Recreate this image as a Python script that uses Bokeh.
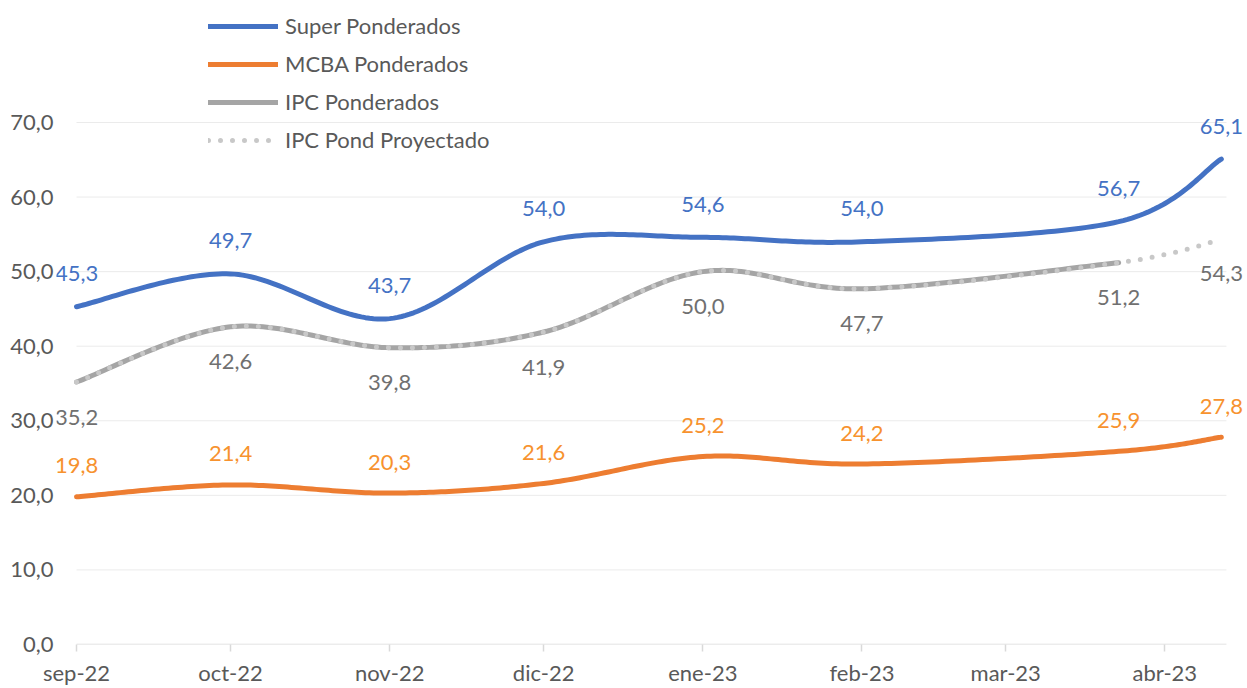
import numpy as np
from bokeh.plotting import figure
from bokeh.models import FixedTicker, Legend, LegendItem, ColumnDataSource, Range1d, LabelSet
from bokeh.core.properties import value
from bokeh.embed import file_html
from bokeh.resources import INLINE

# ---------------- data ----------------
dates = ["2022-09-01", "2022-10-01", "2022-11-01", "2022-12-01",
         "2023-01-01", "2023-02-01", "2023-03-23", "2023-04-12"]
super_pond = [45.3, 49.7, 43.7, 54.0, 54.6, 54.0, 56.7, 65.1]
mcba_pond = [19.8, 21.4, 20.3, 21.6, 25.2, 24.2, 25.9, 27.8]
ipc_pond = [35.2, 42.6, 39.8, 41.9, 50.0, 47.7, 51.2]
ipc_proj = [35.2, 42.6, 39.8, 41.9, 50.0, 47.7, 51.2, 54.3]
proj_label_index = [7]

tick_dates = ["2022-09-01", "2022-10-01", "2022-11-01", "2022-12-01",
              "2023-01-01", "2023-02-01", "2023-03-01", "2023-04-01"]
tick_labels = ["sep-22", "oct-22", "nov-22", "dic-22",
               "ene-23", "feb-23", "mar-23", "abr-23"]
y_ticks = [0, 10, 20, 30, 40, 50, 60, 70]
x_start, x_end = "2022-09-01", "2023-04-13"

FONT = "Lato"
DAY = 86400000.0
PAD_LEFT_DAYS = 3.9     # room for data labels outside the axis extent
PAD_RIGHT_DAYS = 4.1


def to_ms(d):
    return np.array(d, dtype="datetime64[ms]").astype("int64").astype(float)


def smooth(x, y, n=40):
    P = np.column_stack([np.asarray(x, float), np.asarray(y, float)])
    m = len(P)
    xs, ys = [], []
    for i in range(m - 1):
        p0 = P[max(i - 1, 0)]
        p1 = P[i]
        p2 = P[i + 1]
        p3 = P[min(i + 2, m - 1)]
        c1 = p1 + (p2 - p0) / 6.0
        c2 = p2 - (p3 - p1) / 6.0
        t = np.linspace(0, 1, n)[:, None]
        if i > 0:
            t = t[1:]
        B = ((1 - t) ** 3) * p1 + 3 * ((1 - t) ** 2) * t * c1 + 3 * (1 - t) * t ** 2 * c2 + t ** 3 * p2
        xs.append(B[:, 0])
        ys.append(B[:, 1])
    return np.concatenate(xs), np.concatenate(ys)


def fmt(v):
    return f"{v:.1f}".replace(".", ",")


xd = to_ms(dates)
x_ticks = [float(t) for t in to_ms(tick_dates)]
xs0 = float(to_ms(x_start))
xs1 = float(to_ms(x_end))

p = figure(width=1247, height=688, x_axis_type="datetime",
           output_backend="svg", toolbar_location=None,
           x_range=Range1d(xs0 - PAD_LEFT_DAYS * DAY, xs1 + PAD_RIGHT_DAYS * DAY),
           y_range=Range1d(0, 86.36),
           min_border_left=56, min_border_right=0,
           min_border_top=0, min_border_bottom=30)
p.outline_line_color = None
p.background_fill_color = "white"
p.border_fill_color = "white"

# grid (drawn as segments so it spans only the category extent)
p.xgrid.grid_line_color = None
p.ygrid.grid_line_color = None
grid_y = [t for t in y_ticks if t != 0]
p.segment(x0=[xs0] * len(grid_y), y0=grid_y, x1=[xs1] * len(grid_y), y1=grid_y,
          line_color="#EBEBEB", line_width=1)
p.segment(x0=[xs0], y0=[0], x1=[xs1], y1=[0], line_color="#D9D9D9", line_width=1.5)

p.yaxis.ticker = FixedTicker(ticks=y_ticks)
p.yaxis.major_label_overrides = {t: fmt(t) for t in y_ticks}
p.yaxis.axis_line_color = None
p.yaxis.major_tick_line_color = None
p.yaxis.minor_tick_line_color = None
p.yaxis.major_label_standoff = -3
p.yaxis.major_label_text_font = FONT
p.yaxis.major_label_text_font_size = "22px"
p.yaxis.major_label_text_color = "#595959"

p.xaxis.ticker = FixedTicker(ticks=x_ticks)
p.xaxis.major_label_overrides = {t: l for t, l in zip(x_ticks, tick_labels)}
p.xaxis.axis_line_color = None
p.xaxis.major_tick_line_color = "#D9D9D9"
p.xaxis.major_tick_line_width = 1.5
p.xaxis.major_tick_out = 7
p.xaxis.major_tick_in = 0
p.xaxis.minor_tick_line_color = None
p.xaxis.major_label_standoff = 7
p.xaxis.major_label_text_font = FONT
p.xaxis.major_label_text_font_size = "22px"
p.xaxis.major_label_text_color = "#595959"

BLUE = "#4472C4"
ORANGE = "#ED7D31"
GRAY = "#A5A5A5"
DOT = "#C8C8C8"

sx, sy = smooth(xd, super_pond)
r_super = p.line(sx, sy, line_color=BLUE, line_width=5, line_cap="round", line_join="round")
mx, my = smooth(xd, mcba_pond)
r_mcba = p.line(mx, my, line_color=ORANGE, line_width=5, line_cap="round", line_join="round")
ix, iy = smooth(xd[:len(ipc_pond)], ipc_pond)
r_ipc = p.line(ix, iy, line_color=GRAY, line_width=5, line_cap="round", line_join="round")
px_, py_ = smooth(xd[:len(ipc_proj)], ipc_proj, n=200)
r_proj = p.line(px_, py_, line_color=DOT, line_width=5, line_cap="round",
                line_join="round", line_dash="0 12")


# data labels
def add_labels(xs, ys, color, offset):
    src = ColumnDataSource(dict(x=list(xs), y=list(ys), t=[fmt(v) for v in ys]))
    ls = LabelSet(x="x", y="y", text="t", source=src, y_offset=offset,
                  text_color=color, text_font=value(FONT), text_font_size="22px",
                  text_align="center", text_baseline="middle")
    p.add_layout(ls)


add_labels(xd, super_pond, BLUE, 33)
add_labels(xd, mcba_pond, "#F7922E", 31)
add_labels(xd[:len(ipc_pond)], ipc_pond, "#707070", -35)
add_labels([xd[i] for i in proj_label_index], [ipc_proj[i] for i in proj_label_index],
           "#707070", -34)

legend = Legend(items=[
    LegendItem(label="Super Ponderados", renderers=[r_super]),
    LegendItem(label="MCBA Ponderados", renderers=[r_mcba]),
    LegendItem(label="IPC Ponderados", renderers=[r_ipc]),
    LegendItem(label="IPC Pond Proyectado", renderers=[r_proj]),
], location=(152, 491), orientation="vertical",
    glyph_width=70, glyph_height=20, label_height=20, spacing=11,
    padding=0, margin=0, border_line_color=None, background_fill_alpha=0,
    label_text_font=FONT, label_text_font_size="22px",
    label_text_color="#595959", label_standoff=7)
p.add_layout(legend)

open("out.html", "w").write(file_html(p, INLINE))
